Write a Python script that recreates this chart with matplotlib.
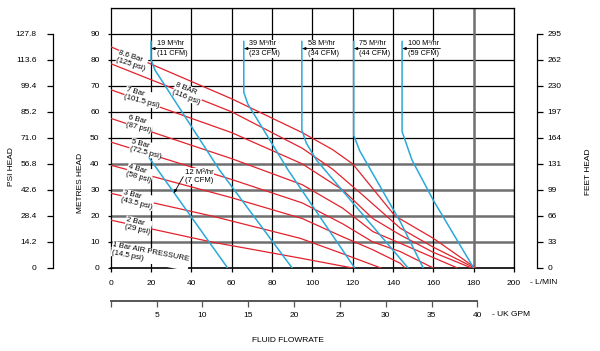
import matplotlib
matplotlib.use("Agg")
from matplotlib import pyplot as plt

plt.rcParams["font.family"] = ["Liberation Sans", "DejaVu Sans"]
plt.rcParams["font.size"] = 6

# air pressure curves, flow in L/min and head in metres
bar_names = ["1 Bar AIR PRESSURE\n(14.5 psi)", "2 Bar\n(29 psi)", "3 Bar\n(43.5 psi)",
             "4 Bar\n(58 psi)", "5 Bar\n(72.5 psi)", "6 Bar\n(87 psi)",
             "7 Bar\n(101.5 psi)", "8 BAR\n(116 psi)", "8.6 Bar\n(125 psi)"]
bar_flow = [
    [0, 37],
    [0, 50, 94, 120],
    [0, 50, 94, 115, 134],
    [0, 60, 95, 115, 130, 143.6, 146],
    [0, 60, 95, 115, 130, 143.6, 160],
    [0, 60, 95, 115, 130, 143.6, 160, 172],
    [0, 60, 95, 115, 130, 143.6, 160, 179],
    [0, 60, 95, 110, 125, 143.6, 160, 180.5],
    [0, 60, 95, 110, 120, 141, 160, 181],
]
bar_head = [
    [8, 0],
    [18.4, 10, 3.8, 0],
    [28.7, 20, 11.4, 5.5, 0],
    [39.5, 27, 19, 12, 7, 1.8, 0],
    [48.4, 34, 25, 17, 10, 6.3, 0],
    [57.5, 42, 32, 23, 14, 9.5, 4, 0],
    [68.5, 52, 40, 30, 19, 12.7, 6, 0],
    [78.5, 60, 46, 38, 28, 15.3, 8, 0],
    [85, 65, 52, 45.5, 40, 20, 11.4, 0],
]

# air consumption curves
air_names = [("12 M³/hr", "(7 CFM)"), ("19 M³/hr", "(11 CFM)"), ("39 M³/hr", "(23 CFM)"),
             ("58 M³/hr", "(34 CFM)"), ("75 M³/hr", "(44 CFM)"), ("100 M³/hr", "(59 CFM)")]
air_flow = [
    [18, 58],
    [20, 20, 22, 54, 90],
    [66, 66, 68, 88, 121],
    [94.8, 94.8, 97, 102, 147.5],
    [120.5, 120.5, 123.5, 143.6, 155],
    [144.5, 144.5, 149.4, 160, 180],
]
air_head = [
    [43.5, 0],
    [87, 80, 76, 37.6, 0],
    [87, 67.5, 63, 37.6, 0],
    [87, 53, 48, 41.5, 0],
    [87, 51, 45, 17.8, 0],
    [87, 52.4, 41.5, 26, 0],
]

metre_ticks = list(range(0, 91, 10))
psi_ticks = ["0", "14.2", "28.4", "42.6", "56.8", "71.0", "85.2", "99.4", "113.6", "127.8"]
feet_ticks = ["0", "33", "66", "99", "131", "164", "197", "230", "262", "295"]
lmin_ticks = list(range(0, 201, 20))
gpm_ticks = list(range(0, 41, 5))

RED = "#e3222c"
BLUE = "#2aa9d8"
GREY = "#6f6f6f"

fig = plt.figure(figsize=(6, 3.51), dpi=100)
L, B, W, H = 110.7 / 600, 83 / 351, 403.3 / 600, 260.3 / 351
ax = fig.add_axes([L, B, W, H])
ax.set_xlim(0, 200)
ax.set_ylim(0, 100)

# grid
for m in range(10, 101, 10):
    grey = m <= 40
    ax.axhline(m, color=GREY if grey else "black", lw=1.8 if grey else 0.9, zorder=1)
for q in range(20, 201, 20):
    grey = q == 180
    ax.axvline(q, color=GREY if grey else "black", lw=1.8 if grey else 0.9, zorder=1)

for s in ax.spines.values():
    s.set_linewidth(0.9)
ax.spines["bottom"].set_linewidth(1.2)

ax.set_xticks(lmin_ticks, [str(v) for v in lmin_ticks])
ax.set_yticks(metre_ticks, [str(v) for v in metre_ticks])
ax.tick_params(axis="x", direction="out", length=3, width=0.9, pad=5.5, labelsize=6)
ax.tick_params(axis="y", direction="out", length=2, width=0.9, pad=6, labelsize=6)

for flow, head in zip(bar_flow, bar_head):
    ax.plot(flow, head, color=RED, lw=0.9, zorder=3)
for flow, head in zip(air_flow, air_head):
    ax.plot(flow, head, color=BLUE, lw=1.1, zorder=3)

# pressure labels (left-centre anchor, sloping down like the curves)
bar_pos = [(0.6, 7.5, -11), (7.3, 17.3, -13), (5.6, 27.7, -14), (8.1, 37.6, -16), (9.8, 47.3, -15),
           (8.1, 56.5, -14), (7.2, 67.2, -15), (31.5, 69.2, -22), (3.4, 81.5, -18)]
for name, (x, y, rot) in zip(bar_names, bar_pos):
    ax.text(x, y, name, rotation=rot, rotation_mode="anchor", ha="left", va="center",
            multialignment="left", fontsize=5.6, linespacing=1.15, zorder=5,
            bbox=dict(fc="white", ec="none", pad=0.2))

# air consumption labels at the top
for (top, bottom), flow in zip(air_names[1:], air_flow[1:]):
    x0 = flow[0]
    ax.text(x0 + 2.8, 84.8, top, ha="left", va="bottom", fontsize=5.2, zorder=5,
            bbox=dict(fc="white", ec="none", pad=0.3))
    ax.text(x0 + 2.8, 83.6, bottom, ha="left", va="top", fontsize=5.2, zorder=5,
            bbox=dict(fc="white", ec="none", pad=0.3))
    length = 19 if top.startswith("100") else 16
    ax.annotate("", xy=(x0, 84.3), xytext=(x0 + length, 84.3), zorder=6,
                arrowprops=dict(arrowstyle="-|>,head_length=0.35,head_width=0.13",
                                lw=0.6, color="black", shrinkA=0, shrinkB=0))

ax.text(36.7, 35.2, "\n".join(air_names[0]), ha="left", va="center", multialignment="center",
        fontsize=5.6, zorder=5, bbox=dict(fc="white", ec="none", pad=0.3))
ax.annotate("", xy=(31.3, 28.7), xytext=(36.0, 35.1), zorder=6,
            arrowprops=dict(arrowstyle="-|>,head_length=0.35,head_width=0.13",
                            lw=0.6, color="black", shrinkA=0, shrinkB=0))

# PSI scale
pax = fig.add_axes([52.7 / 600, B, 0.0001, H])
pax.set_ylim(0, 100)
pax.patch.set_visible(False)
for k in ["right", "top", "bottom"]:
    pax.spines[k].set_visible(False)
pax.spines["left"].set_bounds(0, 90)
pax.spines["left"].set_linewidth(0.9)
pax.set_xticks([])
pax.set_yticks(metre_ticks, psi_ticks)
pax.tick_params(axis="y", direction="out", length=4.5, width=0.9, pad=7, labelsize=6)

# FEET scale
fax = fig.add_axes([536.7 / 600, B, 0.0001, H])
fax.set_ylim(0, 100)
fax.patch.set_visible(False)
for k in ["right", "top", "bottom"]:
    fax.spines[k].set_visible(False)
fax.spines["left"].set_bounds(0, 90)
fax.spines["left"].set_linewidth(0.9)
fax.set_xticks([])
fax.yaxis.tick_right()
fax.set_yticks(metre_ticks, feet_ticks)
fax.tick_params(axis="y", direction="out", length=4.5, width=0.9, pad=3, labelsize=6)

# UK GPM scale
gax = fig.add_axes([L, (351 - 300.7) / 351, W, 0.0001])
gax.set_xlim(0, 200 / 4.546)
gax.patch.set_visible(False)
for k in ["left", "right", "top"]:
    gax.spines[k].set_visible(False)
gax.spines["bottom"].set_bounds(0, 40)
gax.spines["bottom"].set_linewidth(1.4)
gax.spines["bottom"].set_color("#555555")
gax.set_yticks([])
gax.set_xticks(gpm_ticks, [""] + [str(v) for v in gpm_ticks[1:]])
gax.tick_params(axis="x", direction="out", length=4, width=0.9, pad=4, labelsize=6,
                color="#555555")

fig.text(11.7 / 600, 1 - 167 / 351, "PSI HEAD", rotation=90, ha="center", va="center", fontsize=6)
fig.text(80 / 600, 1 - 183 / 351, "METRES HEAD", rotation=90, ha="center", va="center", fontsize=6)
fig.text(588 / 600, 1 - 172 / 351, "FEET HEAD", rotation=90, ha="center", va="center", fontsize=6)
fig.text(288 / 600, 1 - 340 / 351, "FLUID FLOWRATE", ha="center", va="center", fontsize=6)
fig.text(530 / 600, 1 - 283 / 351, "- L/MIN", ha="left", va="center", fontsize=6)
fig.text(492 / 600, 1 - 315 / 351, "- UK GPM", ha="left", va="center", fontsize=6)

fig.savefig("out.png", dpi=100)
